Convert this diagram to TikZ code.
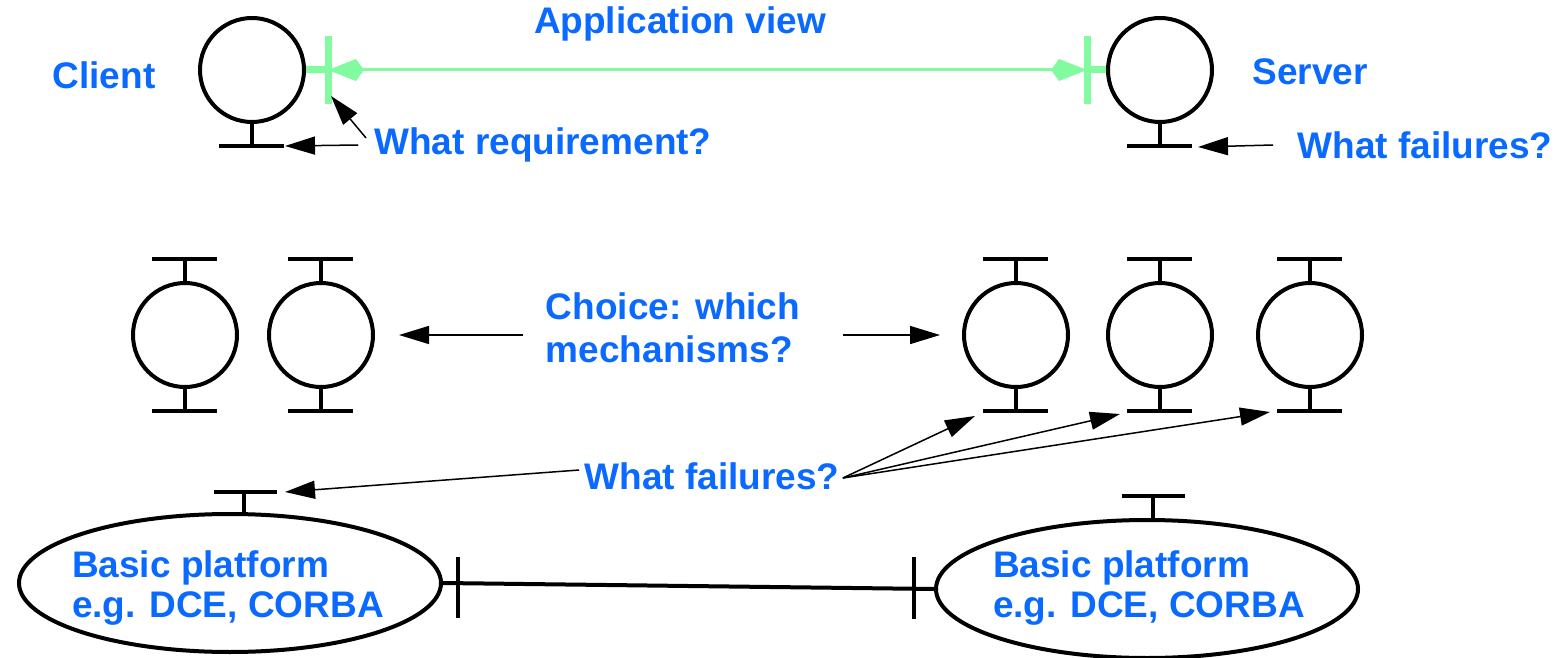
\documentclass[tikz,border=0pt]{standalone}
\usepackage{fontspec}
\setmainfont{Liberation Sans}
\usetikzlibrary{arrows.meta,shapes.geometric}
\definecolor{lblue}{RGB}{10,105,255}
\definecolor{lgreen}{RGB}{130,250,160}

\begin{document}
\begin{tikzpicture}[x=0.5pt, y=-0.5pt,
  proc/.style={circle, draw, line width=2pt, minimum size=52pt, inner sep=0},
  plat/.style={ellipse, draw, line width=2pt, minimum width=211pt, minimum height=69pt, inner sep=0},
  lbl/.style={text=lblue, font=\fontsize{18.5}{21.5}\selectfont\bfseries, inner sep=0},
  tbar/.style={line width=2pt},
  gbar/.style={lgreen, line width=3.5pt},
  arr/.style={-{Triangle[length=15pt,width=9pt]}, line width=0.75pt}]
\useasboundingbox (0,0) rectangle (1564,658);

% application view
\node[proc] (client) at (252,70) {};
\node[proc] (server) at (1160,70) {};
\draw[tbar] (client.south) -- ++(0,22) ++(-33,0) -- ++(65,0);
\draw[tbar] (server.south) -- ++(0,22) ++(-33,0) -- ++(65,0);
\node[lbl] (clientlbl) at (104,75) {Client};
\node[lbl] (serverlbl) at (1310,72) {Server};
\node[lbl] (appview) at (680,24) {Application view};

\coordinate (gl) at (328,70);
\coordinate (gr) at (1087,70);
\draw[gbar] (client.east) -- (gl);
\draw[gbar] (gl) ++(0,-34) -- ++(0,68);
\draw[gbar] (server.west) -- (gr);
\draw[gbar] (gr) ++(0,-34) -- ++(0,68);
\draw[lgreen, line width=1.5pt, {Kite[length=18pt,width=11pt,inset=4pt]}-{Kite[length=18pt,width=11pt,inset=4pt]}] (gl) -- (gr);

\node[lbl] (req) at (543,145) {What requirement?};
\node[lbl] (srvfail) at (1425,145) {What failures?};
\coordinate (cbar) at (285,146);
\coordinate (greq) at (331,96);
\coordinate (sbar) at (1198,147);
\draw[arr] ([xshift=-8pt]req.west) -- (cbar);
\draw[arr] ([shift={(-8,-7)}]req.west) -- (greq);
\draw[arr] ([xshift=-12pt]srvfail.west) -- (sbar);

% mechanisms
\node[proc] (l1) at (185,335) {};
\node[proc] (l2) at (321,335) {};
\node[proc] (r1) at (1016,335) {};
\node[proc] (r2) at (1160,335) {};
\node[proc] (r3) at (1310,335) {};
\draw[tbar] (l1.north) -- ++(0,-22) ++(-33,0) -- ++(65,0);
\draw[tbar] (l1.south) -- ++(0,22) ++(-33,0) -- ++(65,0);
\draw[tbar] (l2.north) -- ++(0,-22) ++(-33,0) -- ++(65,0);
\draw[tbar] (l2.south) -- ++(0,22) ++(-33,0) -- ++(65,0);
\draw[tbar] (r1.north) -- ++(0,-22) ++(-33,0) -- ++(65,0);
\draw[tbar] (r1.south) -- ++(0,22) ++(-33,0) -- ++(65,0);
\draw[tbar] (r2.north) -- ++(0,-22) ++(-33,0) -- ++(65,0);
\draw[tbar] (r2.south) -- ++(0,22) ++(-33,0) -- ++(65,0);
\draw[tbar] (r3.north) -- ++(0,-22) ++(-33,0) -- ++(65,0);
\draw[tbar] (r3.south) -- ++(0,22) ++(-33,0) -- ++(65,0);

\node[lbl, align=left] (choice) at (673,328) {Choice: which\\mechanisms?};
\draw[arr, shorten >=12pt] ([shift={(-22,7)}]choice.west) -- (l2);
\draw[arr, shorten >=11pt] ([shift={(42,7)}]choice.east) -- (r1);

% basic platform
\node[plat] (plat1) at (230,583) {};
\node[plat] (plat2) at (1147,589) {};
\node[lbl, align=left, font=\fontsize{18.5}{20}\selectfont\bfseries] (plat1txt) at (228,588) {Basic platform\\e.g. DCE, CORBA};
\node[lbl, align=left, font=\fontsize{18.5}{20}\selectfont\bfseries] (plat2txt) at (1149,588) {Basic platform\\e.g. DCE, CORBA};
\draw[tbar] ([xshift=7pt]plat1.north) -- ++(0,-20) ++(-30,0) -- ++(63,0);
\draw[tbar] ([xshift=3pt]plat2.north) -- ++(0,-22) ++(-31,0) -- ++(63,0);
\draw[tbar] (plat1.east) -- (plat2.west);
\draw[tbar] (plat1.east) ++(15,-26) -- ++(0,61);
\draw[tbar] (plat2.west) ++(-20,-32) -- ++(0,62);

\node[lbl] (fail) at (712,476) {What failures?};
\coordinate (lb) at (285,492);
\coordinate (r1t) at (975,416);
\coordinate (r2t) at (1120,414);
\coordinate (r3t) at (1270,412);
\draw[arr] ([shift={(-5,-6)}]fail.west) -- (lb);
\draw[arr] ([shift={(3,2)}]fail.east) -- (r1t);
\draw[arr] ([shift={(3,2)}]fail.east) -- (r2t);
\draw[arr] ([shift={(3,2)}]fail.east) -- (r3t);
\end{tikzpicture}
\end{document}
